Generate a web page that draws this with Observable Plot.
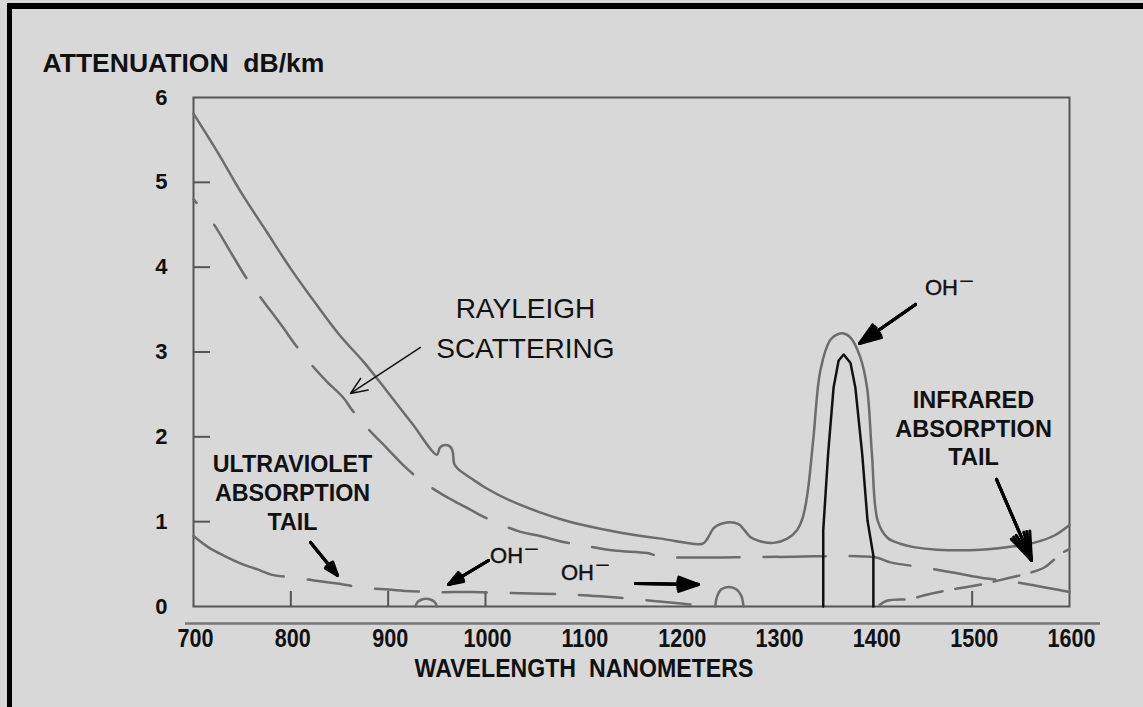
<!DOCTYPE html>
<html><head><meta charset="utf-8">
<script src="https://cdn.jsdelivr.net/npm/d3@7"></script>
<script src="https://cdn.jsdelivr.net/npm/@observablehq/plot@0.6"></script>
<style>
html,body{margin:0;padding:0;background:#d8d8d8;width:1143px;height:707px;overflow:hidden;}
#border{position:absolute;left:7px;top:3px;width:1300px;height:900px;border-left:5px solid #000;border-top:6px solid #000;box-sizing:border-box;}
#chart{position:absolute;left:0;top:0;}
</style></head><body>
<div id="border"></div>
<div id="chart"></div>
<script>
// ---- data (wavelength nm, attenuation dB/km) ----
const totalLoss = [[700,5.81],[725,5.35],[750,4.86],[775,4.42],[800,3.98],[825,3.58],[850,3.2],[875,2.88],[900,2.52],[925,2.15],[950,1.79],[953,1.87],[957,1.90],[963,1.89],[966,1.84],[968,1.68],[972,1.62],[988,1.49],[1000,1.40],[1025,1.25],[1056,1.11],[1080,1.02],[1100,0.96],[1139,0.87],[1180,0.80],[1223,0.74],[1228,0.80],[1235,0.93],[1248,0.99],[1260,0.97],[1266,0.90],[1272,0.82],[1282,0.77],[1296,0.75],[1310,0.80],[1320,0.90],[1326,1.05],[1331,1.35],[1337,2.0],[1344,2.78],[1354,3.14],[1360,3.2],[1367,3.22],[1375,3.17],[1385,2.94],[1392,2.58],[1397,1.80],[1403,1.01],[1413,0.81],[1426,0.74],[1440,0.70],[1464,0.67],[1509,0.67],[1543,0.71],[1563,0.75],[1585,0.84],[1600,0.96]];
const ohPeak = [[1347,0],[1347,0.9],[1352,1.8],[1357.6,2.58],[1362.8,2.9],[1368,2.97],[1375,2.87],[1380,2.58],[1387,1.8],[1392.5,1.01],[1398.5,0.6],[1398.5,0]];
const rayleigh = [[700,4.80],[720,4.52],[738,4.18],[755,3.86],[771,3.61],[790,3.32],[807,3.05],[825,2.80],[838,2.64],[854,2.46],[864,2.30],[879,2.10],[900,1.85],[916,1.66],[931,1.51],[950,1.36],[965,1.26],[983,1.15],[1003,1.03],[1036,0.88],[1056,0.83],[1080,0.76],[1100,0.72],[1132,0.66],[1166,0.63],[1180,0.59],[1300,0.585],[1400,0.58],[1416,0.52],[1450,0.46],[1480,0.40],[1509,0.34],[1536,0.30],[1563,0.25],[1600,0.17]];
const uvTail = [[700,0.83],[715,0.70],[731,0.60],[750,0.50],[765,0.44],[782,0.37],[805,0.34],[828,0.30],[848,0.27],[875,0.22],[900,0.20],[923,0.18],[950,0.17],[985,0.17],[1020,0.16],[1057,0.15],[1090,0.14],[1118,0.12],[1150,0.09],[1187,0.05],[1221,0.01]];
const irTail = [[1405,0.02],[1413,0.07],[1437,0.09],[1450,0.13],[1474,0.19],[1505,0.25],[1543,0.35],[1557,0.39],[1574,0.46],[1591,0.62],[1600,0.68]];
const ohBump1 = [[928,0],[930,0.05],[934,0.08],[939,0.09],[944,0.08],[948,0.05],[950,0]];
const ohBump2 = [[1236,0],[1238,0.12],[1242,0.2],[1250,0.23],[1258,0.2],[1263,0.12],[1265,0]];

const yTickValues = [0,1,2,3,4,5,6];
const yInnerTicks = [1,2,3,4,5];
const xTickValues = [700,800,900,1000,1100,1200,1300,1400,1500,1600];
const xInnerTicks = [800,900,1000,1500];

const thinArrows = [{x1:933.2,y1:3.054,x2:861.3,y2:2.512}];
const thickArrows = [
  {x1:820.2,y1:0.755,x2:848.0,y2:0.366},
  {x1:1003.1,y1:0.542,x2:962.0,y2:0.259},
  {x1:1154.1,y1:0.271,x2:1218.8,y2:0.259},
  {x1:1441.8,y1:3.561,x2:1384.3,y2:3.101},
  {x1:1525.0,y1:1.498,x2:1561.0,y2:0.542}
];
const rayleighLabel = [{w:1041,a:3.51,t:"RAYLEIGH"},{w:1041,a:3.04,t:"SCATTERING"}];
const uvLabel = [{w:801.7,a:1.675,t:"ULTRAVIOLET"},{w:801.7,a:1.333,t:"ABSORPTION"},{w:801.7,a:0.99,t:"TAIL"}];
const irLabel = [{w:1501.4,a:2.43,t:"INFRARED"},{w:1501.4,a:2.09,t:"ABSORPTION"},{w:1501.4,a:1.76,t:"TAIL"}];
const ohLabels = [{w:1468.5,a:3.75},{w:1021.6,a:0.59},{w:1094.5,a:0.40}];
const yTitle = "ATTENUATION\u00a0\u00a0dB/km";
const xTitle = "WAVELENGTH\u00a0\u00a0NANOMETERS";

const gray = "#6c6c6c";
const dash = (first, pat, n) => [first, ...Array(n).fill(pat)].join(",");
const arrowOpts = (w, angle, len) => ({x1: "x1", y1: "y1", x2: "x2", y2: "y2", stroke: "#000", strokeWidth: w, headLength: len, headAngle: angle});

const plot = Plot.plot({
  width: 1143, height: 707,
  marginLeft: 193, marginRight: 74, marginTop: 97, marginBottom: 101,
  style: {background: "transparent", fontFamily: "'Liberation Sans', Arial, sans-serif", color: "#111", overflow: "visible"},
  x: {domain: [700, 1600]},
  y: {domain: [0, 6]},
  marks: [
    Plot.frame({stroke: "#555", strokeWidth: 2}),
    Plot.tickY(yInnerTicks, {y: d => d, insetRight: 859, stroke: "#555", strokeWidth: 2}),
    Plot.tickX(xInnerTicks, {x: d => d, insetTop: 494, stroke: "#555", strokeWidth: 2}),
    Plot.ruleY([0], {dy: 17, insetLeft: -8, insetRight: -31, stroke: "#777", strokeWidth: 2.5}),
    Plot.axisY({ticks: yTickValues, tickSize: 0, tickPadding: 26, fontSize: 22, fontWeight: "bold", label: null, tickFormat: d => `${d}`}),
    Plot.axisX({ticks: xTickValues, tickSize: 0, tickPadding: 22, fontSize: 26, fontWeight: "bold", label: null, tickFormat: d => `${d}`, dx: 2}),
    Plot.line(rayleigh, {x: d => d[0], y: d => d[1], stroke: gray, strokeWidth: 2.5, strokeDasharray: dash("5,28", "62,24", 40), curve: "catmull-rom"}),
    Plot.line(uvTail, {x: d => d[0], y: d => d[1], stroke: gray, strokeWidth: 2.5, strokeDasharray: dash("100,24", "44,24", 40), curve: "catmull-rom"}),
    Plot.line(irTail, {x: d => d[0], y: d => d[1], stroke: gray, strokeWidth: 2.5, strokeDasharray: "26,13", curve: "catmull-rom"}),
    Plot.line(ohBump1, {x: d => d[0], y: d => d[1], stroke: gray, strokeWidth: 2.5, curve: "catmull-rom"}),
    Plot.line(ohBump2, {x: d => d[0], y: d => d[1], stroke: gray, strokeWidth: 2.5, curve: "catmull-rom"}),
    Plot.line(totalLoss, {x: d => d[0], y: d => d[1], stroke: gray, strokeWidth: 2.5, curve: "catmull-rom"}),
    Plot.line(ohPeak, {x: d => d[0], y: d => d[1], stroke: "#111", strokeWidth: 2.5, curve: "linear"}),
    Plot.arrow(thinArrows, {...arrowOpts(1.5, 45, 18), stroke: "#111"}),
    Plot.arrow(thickArrows, arrowOpts(3, 40, 20)),
    Plot.arrow(thickArrows, arrowOpts(3, 28, 19)),
    Plot.arrow(thickArrows, arrowOpts(3, 16, 18)),
    Plot.text(rayleighLabel, {x: "w", y: "a", text: "t", fontSize: 28, fill: "#111"}),
    Plot.text(uvLabel, {x: "w", y: "a", text: "t", fontSize: 24.5, fontWeight: "bold", fill: "#111"}),
    Plot.text(irLabel, {x: "w", y: "a", text: "t", fontSize: 23.5, fontWeight: "bold", fill: "#111"}),
    Plot.text(ohLabels, {x: "w", y: "a", text: () => "OH", fontSize: 22, fill: "#111", stroke: "#111", strokeWidth: 0.4}),
    Plot.text(ohLabels, {x: "w", y: "a", text: () => "\u2013", dx: 25, dy: -9, fontSize: 22.5, fill: "#111"}),
    Plot.text([yTitle], {frameAnchor: "top-left", text: d => d, textAnchor: "start", dx: -151, dy: -43.5, fontSize: 25.5, fontWeight: "bold", fill: "#111"}),
    Plot.text([xTitle], {frameAnchor: "bottom", text: d => d, dx: -47.5, dy: 70, fontSize: 25, fontWeight: "bold", fill: "#111"})
  ]
});
document.getElementById("chart").append(plot);

function squeeze(size, k) {
  plot.querySelectorAll(`g[font-size="${size}"] text`).forEach(t => {
    const len = t.getComputedTextLength();
    t.setAttribute("textLength", (len * k).toFixed(1));
    t.setAttribute("lengthAdjust", "spacingAndGlyphs");
  });
}
squeeze(26, 0.83);
squeeze(25, 0.925);
squeeze(24.5, 0.95);
squeeze(25.5, 1.04);
</script></body></html>
